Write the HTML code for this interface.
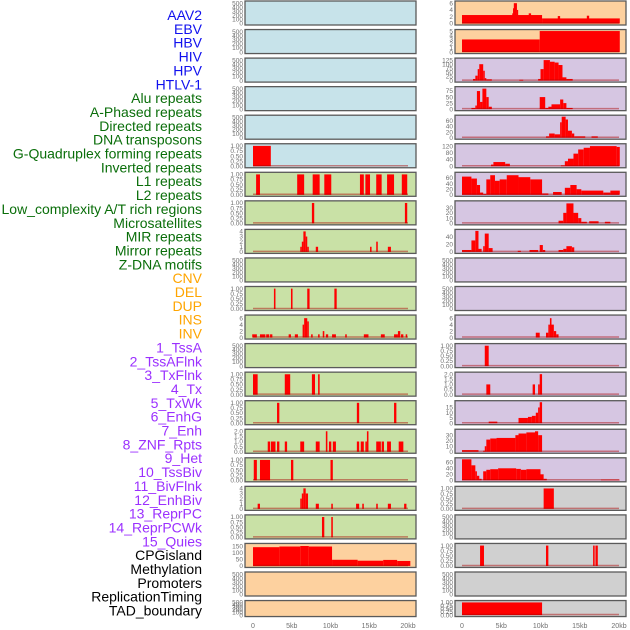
<!DOCTYPE html>
<html><head><meta charset="utf-8"><style>
html,body{margin:0;padding:0;background:#fff}
svg{display:block}
</style></head><body>
<svg id="chart" width="630" height="630" viewBox="0 0 630 630" xmlns="http://www.w3.org/2000/svg" font-family="Liberation Sans, sans-serif"></svg>
<script>
const labelTexts=["AAV2","EBV","HBV","HIV","HPV","HTLV-1","Alu repeats","A-Phased repeats","Directed repeats","DNA transposons","G-Quadruplex forming repeats","Inverted repeats","L1 repeats","L2 repeats","Low_complexity A/T rich regions","Microsatellites","MIR repeats","Mirror repeats","Z-DNA motifs","CNV","DEL","DUP","INS","INV","1_TssA","2_TssAFlnk","3_TxFlnk","4_Tx","5_TxWk","6_EnhG","7_Enh","8_ZNF_Rpts","9_Het","10_TssBiv","11_BivFlnk","12_EnhBiv","13_ReprPC","14_ReprPCWk","15_Quies","CPGisland","Methylation","Promoters","ReplicationTiming","TAD_boundary"];
const labelGroups=["v","v","v","v","v","v","r","r","r","r","r","r","r","r","r","r","r","r","r","s","s","s","s","s","c","c","c","c","c","c","c","c","c","c","c","c","c","c","c","k","k","k","k","k"];
const xTickValues=[0,5,10,15,20];
const xTickLabels=["0","5kb","10kb","15kb","20kb"];
// y tick sets
const T500=[0,100,200,300,400,500];
const T1=[0,0.25,0.5,0.75,1];
// left column panels: segments [startKb,endKb,value]
const L01=[],L02=[],L03=[],L04=[],L05=[];
const L06=[[0,2.3,1]];
const L07=[[0.4,0.9,1],[5.7,6.6,1],[7.7,8.6,1],[9.2,10.1,1],[13.8,14.3,1],[14.5,15.1,1],[15.9,16.6,1],[17.3,18.2,1],[19.2,19.9,1]];
const L08=[[7.6,7.9,1],[19.6,19.9,1]];
const L09=[[6.1,6.3,1],[6.3,6.5,2],[6.5,6.8,4],[6.8,7.0,3],[7.0,7.2,1],[8.1,8.4,1],[15.1,15.3,1],[15.9,16.1,2],[17.4,17.8,1]];
const L10=[];
const L11=[[2.7,2.9,1],[4.9,5.1,1],[7.0,7.3,1],[10.5,10.8,1]];
const L12=[[-0.1,0.5,1],[0.9,1.6,1],[1.7,2.1,1],[2.2,2.5,1],[4.6,4.9,1],[5.4,5.8,1],[6.4,6.6,4],[6.6,7.0,6],[7.0,7.2,5],[7.5,7.7,1],[8.4,8.6,1],[9.0,9.2,2],[9.4,9.7,1],[10.2,10.7,1],[11.9,12.1,1],[14.3,14.9,1],[16.5,17.0,1],[18.2,18.7,1],[18.7,19.0,2],[19.1,19.4,1],[19.7,19.9,1]];
const L13=[];
const L14=[[0,0.6,1],[4.1,4.8,1],[7.6,8.0,1],[8.4,8.6,1]];
const L15=[[3.1,3.4,1],[13.4,13.7,1],[18.2,18.5,1]];
const L16=[[1.9,2.2,1],[2.3,2.9,1],[3.1,3.4,1],[4.1,4.4,1],[6.1,6.6,1],[8.1,8.6,1],[9.4,9.6,2],[9.8,10.1,1],[10.3,10.7,1],[13.4,13.7,1],[13.9,14.3,1],[14.5,14.7,1],[14.7,14.9,2],[15.9,16.5,1],[16.6,16.9,1],[17.3,17.8,1],[18.8,19.4,1]];
const L17=[[0.1,0.5,1],[0.9,2.2,1],[4.9,5.2,1],[10.0,10.3,1]];
const L18=[[0.6,0.9,1],[6.1,6.3,2],[6.3,6.5,3],[6.5,6.8,4],[6.8,7.1,3],[8.1,8.5,1],[10.1,10.3,1],[13.3,13.7,1],[14.1,14.3,1],[15.9,16.1,1],[17.4,17.8,1],[19.5,19.8,1]];
const L19=[[8.9,9.2,1],[10.1,10.3,1]];
const L20=[[0,3.4,143],[3.4,6.1,148],[6.1,7.2,152],[7.2,10.2,148],[10.2,13.5,47],[13.5,16.8,40],[16.8,18.6,46],[18.6,20.3,38]];
const L21=[],L22=[];
// right column panels
const R01=[[0,10.2,2.5],[10.2,20.1,1.5],[6.4,6.5,3],[6.5,6.6,4.5],[6.6,7.0,6],[7.0,7.1,4],[8.5,8.8,3],[12.2,12.5,2.2],[15.9,16.2,2.3]];
const R02=[[0,9.9,3],[9.9,20.1,5]];
const R03=[[1.4,1.7,10],[1.7,2.0,30],[2.0,2.2,70],[2.2,2.7,100],[2.7,2.9,60],[2.9,3.1,15],[3.1,3.8,8],[7.3,7.8,5],[9.7,10.0,10],[10.0,10.4,70],[10.4,11.2,125],[11.2,11.8,115],[11.8,12.3,110],[12.3,12.8,95],[12.8,13.3,20],[13.3,14.1,10]];
const R04=[[1.2,1.7,5],[1.7,1.9,15],[1.9,2.3,75],[2.3,2.6,30],[2.6,3.1,85],[3.1,3.4,50],[3.4,3.8,10],[9.9,10.6,50],[10.6,11.0,5],[11.0,11.4,10],[11.4,12.5,20],[12.5,12.9,40],[12.9,13.3,25],[13.3,14.1,5]];
const R05=[[10.7,11.1,5],[11.1,11.8,15],[11.8,12.5,12],[12.5,12.7,55],[12.7,13.2,75],[13.2,13.5,65],[13.5,14.0,25],[14.0,14.3,15],[14.3,15.7,5],[16.5,17.3,5]];
const R06=[[3.7,4.0,10],[4.0,5.5,25],[5.5,6.1,15],[12.6,13.1,5],[13.1,13.5,30],[13.5,14.2,45],[14.2,14.8,75],[14.8,15.5,100],[15.5,16.3,110],[16.3,19.7,120],[19.7,20.1,115]];
const R07=[[0,1.2,65],[1.2,1.9,58],[1.9,2.3,35],[2.3,2.7,8],[2.7,3.1,3],[3.1,3.6,55],[3.6,4.2,70],[4.2,4.8,50],[4.8,5.7,55],[5.7,7.2,70],[7.2,8.7,63],[8.7,10.2,55],[10.2,11.0,5],[11.6,12.7,10],[13.1,13.8,25],[13.8,14.6,35],[14.6,15.2,20],[15.2,18.0,15],[18.0,18.9,8],[18.9,20.1,15]];
const R08=[[12.3,12.9,5],[12.9,13.3,20],[13.3,14.2,38],[14.2,14.8,20],[14.8,15.2,10],[15.2,15.9,3],[16.2,17.4,4],[18.2,18.9,3]];
const R09=[[0,1.2,5],[1.2,1.7,30],[1.7,2.1,55],[2.1,2.5,8],[2.7,2.9,15],[2.9,3.4,48],[3.4,3.9,10],[7.1,7.5,3],[8.6,9.7,5],[9.9,10.3,18],[10.3,10.6,5],[12.3,12.9,5],[12.9,13.3,8],[13.3,14.0,15],[14.0,14.3,12]];
const R10=[],R11=[];
const R12=[[9.4,9.9,1.5],[10.7,11.0,1.5],[11.0,11.2,4],[11.2,11.4,6],[11.4,11.7,4],[11.7,12.0,2],[12.0,12.3,1]];
const R13=[[2.9,3.4,1]];
const R14=[[3.1,3.6,1],[9.0,9.3,1],[9.7,9.9,1],[9.9,10.2,2]];
const R15=[[3.4,4.5,1.5],[7.2,8.4,5],[8.4,8.9,6],[8.9,9.4,7],[9.4,9.7,10],[9.7,9.9,15],[9.9,10.2,20]];
const R16=[[0,2.1,3],[2.7,2.9,2],[2.9,3.1,10],[3.1,3.6,22],[3.6,4.4,24],[4.4,6.8,25],[6.8,7.2,30],[7.2,8.2,33],[8.2,9.3,35],[9.3,9.7,37],[9.7,10.2,30]];
const R17=[[0,1.2,70],[1.2,1.7,50],[1.7,1.9,30],[1.9,2.2,15],[2.2,2.5,5],[2.7,3.1,30],[3.1,3.6,35],[3.6,4.6,37],[4.6,6.9,40],[6.9,7.5,38],[7.5,8.2,35],[8.2,10.0,37],[10.0,10.4,20],[10.4,10.8,5],[17.7,20.1,2]];
const R18=[[10.4,11.7,1]];
const R19=[];
const R20=[[2.3,2.8,1],[10.7,11.0,1],[16.7,16.9,1],[17.0,17.3,1]];
const R21=[];
const R22=[[0,10.2,1]];
const leftSeries=[L01,L02,L03,L04,L05,L06,L07,L08,L09,L10,L11,L12,L13,L14,L15,L16,L17,L18,L19,L20,L21,L22];
const rightSeries=[R01,R02,R03,R04,R05,R06,R07,R08,R09,R10,R11,R12,R13,R14,R15,R16,R17,R18,R19,R20,R21,R22];
const leftYMax=[515,515,515,515,515,1.03,1.03,1.03,4.1,515,1.03,6.5,515,1.03,1.03,2.05,1.03,4.1,1.03,160,515,515];
const rightYMax=[6.2,5,128,87,75,125,75,40,55,515,515,6.5,1.03,2.05,20,38,70,1.03,515,1.03,515,1.03];
const leftTicks=[T500,T500,T500,T500,T500,T1,T1,T1,[0,1,2,3,4],T500,T1,[0,2,4,6],T500,T1,T1,[0,0.5,1,1.5,2],T1,[0,1,2,3,4],T1,[0,50,100,150],T500,T500];
const rightTicks=[[0,2,4,6],[0,1,2,3,4,5],[0,25,50,75,100,125],[0,25,50,75],[0,20,40,60],[0,40,80,120],[0,20,40,60],[0,10,20,30],[0,20,40],T500,T500,[0,2,4,6],T1,[0,0.5,1,1.5,2],[0,5,10,15],[0,10,20,30],[0,20,40,60],T1,T500,T1,T500,T1];
const BLUE="#c7e3ea",ORANGE="#fdd19f",PURPLE="#d6c6e2",GREEN="#c9e1a6",GREY="#d0d0d0";
const leftBg=[BLUE,BLUE,BLUE,BLUE,BLUE,BLUE,GREEN,GREEN,GREEN,GREEN,GREEN,GREEN,GREEN,GREEN,GREEN,GREEN,GREEN,GREEN,GREEN,ORANGE,ORANGE,ORANGE];
const rightBg=[ORANGE,ORANGE,PURPLE,PURPLE,PURPLE,PURPLE,PURPLE,PURPLE,PURPLE,PURPLE,PURPLE,PURPLE,PURPLE,PURPLE,PURPLE,PURPLE,PURPLE,GREY,GREY,GREY,GREY,GREY];

const NS="http://www.w3.org/2000/svg";
const svg=document.getElementById('chart');
function mk(tag,attrs,parent){const e=document.createElementNS(NS,tag);for(const k in attrs)e.setAttribute(k,attrs[k]);(parent||svg).appendChild(e);return e;}
const groupColor={v:"#1010ee",r:"#0a6e0a",s:"#ffa500",c:"#9b30ff",k:"#000"};
labelTexts.forEach((t,i)=>{
  const e=mk('text',{x:202,y:15+i*13.85+5,'text-anchor':'end','font-size':14,fill:groupColor[labelGroups[i]]});
  e.textContent=t;
  
  
});
const cols=[{px:245,x0:253,k:7.75,tickX:243,series:leftSeries,ymax:leftYMax,ticks:leftTicks,bg:leftBg,name:'left'},
            {px:455,x0:462,k:7.85,tickX:453,series:rightSeries,ymax:rightYMax,ticks:rightTicks,bg:rightBg,name:'right'}];
function fmt(v,ticks){const dec=ticks.some(t=>t%1!==0);if(!dec)return String(v);const two=ticks.some(t=>Math.round(t*100)%10!==0);return v.toFixed(two?2:1);}
cols.forEach(c=>{
  const xs=kb=>c.x0+kb*c.k;
  for(let r=0;r<22;r++){
    const top=1+28.55*r,h=(r===21)?16:24;
    const g=mk('g',{});
    
    
    const bg=mk('rect',{x:c.px,y:top,width:171,height:h,fill:c.bg[r],stroke:'#5a5a5a','stroke-width':1.3},g);
    
    
    const y0=top+h-1.5,y1=top+1.5,ym=c.ymax[r];
    const ys=v=>y0-(v/ym)*(y0-y1);
    const segs=c.series[r];
    segs.forEach(s=>{
      const x1=xs(Math.max(s[0],-0.1)),x2=xs(s[1]);
      const b=mk('rect',{x:x1,y:ys(s[2]),width:Math.max(x2-x1,1.2),height:y0-ys(s[2]),fill:'#ff0000'},g);
      
      
    });
    if(segs.length){
      const bl=mk('line',{x1:xs(0),x2:xs(20),y1:y0-0.5,y2:y0-0.5,stroke:'rgba(170,0,0,0.45)','stroke-width':1.5},g);
      
      
    }
    c.ticks[r].forEach(t=>{
      const tl=mk('text',{x:c.tickX,y:ys(t)+2.2,'text-anchor':'end','font-size':6.5,fill:'#707070'},g);
      tl.textContent=fmt(t,c.ticks[r]);
      
      
    });
  }
  xTickValues.forEach((v,i)=>{
    const tl=mk('text',{x:xs(v),y:628,'text-anchor':'middle','font-size':7,fill:'#707070'});
    tl.textContent=xTickLabels[i];
    
    
  });
});
</script>
</body></html>
